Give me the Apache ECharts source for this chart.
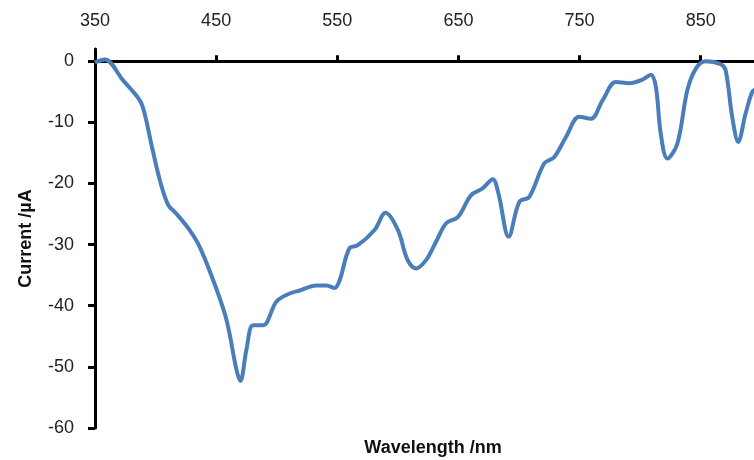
<!DOCTYPE html>
<html>
<head>
<meta charset="utf-8">
<script src="https://cdn.jsdelivr.net/npm/echarts@6/dist/echarts.min.js"></script>
<style>html,body{margin:0;padding:0;background:#fff}#c{width:754px;height:460px}</style>
</head>
<body>
<div id="c"></div>
<script>
const wavelength = [350,358,373,387,391,397,403.6,410.4,417,428,436.5,447.5,457,461,466.8,470,475,480.5,488.7,499.8,510.7,519,532.7,541,547.8,552,560,567,580.8,589.8,600,608,615,623.4,631.6,639.9,649.5,660.5,670,678.3,683,691.5,700.3,708.5,720.9,729,738.8,749.7,759.4,769,780,791,802,808.8,813,817,822.5,830.7,839,846,854,866.5,870.6,876,881,887,892.6,896];
const current = [-0.2,0.3,-3.1,-6.4,-8.6,-14,-19.5,-23.5,-24.9,-27.6,-30.4,-35.8,-41.2,-44.5,-50.5,-52.3,-47.2,-43.2,-43.2,-39.3,-38,-37.5,-36.7,-36.7,-37.1,-35.8,-30.6,-30.1,-27.6,-24.8,-27.6,-32.5,-33.9,-32.5,-29.5,-26.5,-25.5,-21.9,-20.8,-19.3,-21.6,-28.7,-23,-22.2,-16.7,-15.7,-12.4,-9.1,-9.4,-6.4,-3.4,-3.6,-3.0,-2.2,-4.2,-11.8,-15.9,-13.5,-4.7,-1.2,0,-0.5,-1.5,-9.1,-13.2,-8.6,-5.0,-4.6];
const xTicks = [350,450,550,650,750,850];
const yTicks = [-60,-50,-40,-30,-20,-10,0];

const chart = echarts.init(document.getElementById('c'));
const font = 'Liberation Sans';
chart.setOption({
  animation: false,
  title: {
    text: 'Wavelength /nm', left: 428, top: 434, textAlign: 'center',
    textStyle: {fontFamily: font, fontSize: 18, fontWeight: 'bold', color: '#111'}
  },
  grid: {left: 95, right: 0, top: 49, bottom: 32, containLabel: false, outerBoundsMode: 'none'},
  xAxis: {
    type: 'value', position: 'top', min: 350, max: 894, interval: 100,
    axisLine: {onZero: true, lineStyle: {color: '#000', width: 3}},
    axisTick: {show: true, inside: false, length: 6, lineStyle: {color: '#000', width: 3}, customValues: xTicks},
    axisLabel: {margin: 19, fontFamily: font, fontSize: 18, color: '#222', customValues: xTicks},
    splitLine: {show: false}
  },
  yAxis: {
    type: 'value', min: -60, max: 2, interval: 10,
    name: 'Current /µA', nameLocation: 'middle', nameGap: 60, nameRotate: 90,
    nameTextStyle: {fontFamily: font, fontSize: 18, fontWeight: 'bold', color: '#111'},
    axisLine: {show: true, lineStyle: {color: '#000', width: 3}},
    axisTick: {show: true, inside: false, length: 7, lineStyle: {color: '#000', width: 3}, customValues: yTicks},
    axisLabel: {margin: 21, fontFamily: font, fontSize: 18, color: '#222', customValues: yTicks},
    splitLine: {show: false}
  },
  series: [{
    type: 'line', smooth: 0.35, symbol: 'none', clip: true,
    data: wavelength.map((w, i) => [w, current[i]]),
    lineStyle: {color: '#4a7ebb', width: 4}
  }]
});
</script>
</body>
</html>
